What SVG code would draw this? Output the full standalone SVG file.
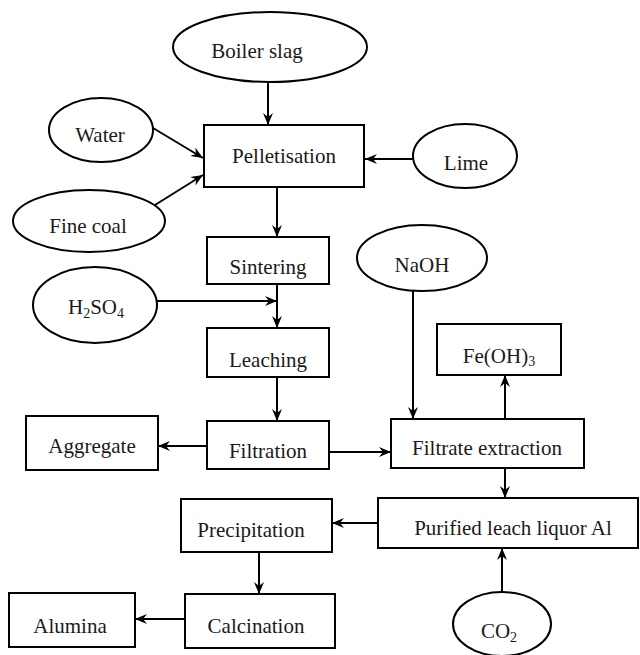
<svg xmlns="http://www.w3.org/2000/svg" width="640" height="655" viewBox="0 0 640 655">
<defs>
<marker id="ah" viewBox="0 0 12 10" markerWidth="12" markerHeight="10" refX="12" refY="5" orient="auto" markerUnits="userSpaceOnUse">
<path d="M0,0 L12,5 L0,10 L4,5 z" fill="#000"/>
</marker>
<style>
.n{fill:#fff;stroke:#000;stroke-width:2}
.t{font-family:"Liberation Serif","Times New Roman",serif;font-size:21px;fill:#1a1a1a;text-anchor:middle}
.s{font-size:14px}
.c{stroke:#000;stroke-width:2;fill:none;marker-end:url(#ah)}
</style>
</defs>
<rect width="640" height="655" fill="#fff"/>
<g id="connectors">
<line class="c" x1="268" y1="82" x2="268" y2="125"/>
<line class="c" x1="153" y1="128" x2="203" y2="158"/>
<line class="c" x1="155" y1="205" x2="203" y2="175"/>
<line class="c" x1="414" y1="159" x2="365" y2="159"/>
<line class="c" x1="277" y1="187" x2="277" y2="237"/>
<line class="c" x1="157" y1="301" x2="277" y2="301"/>
<line class="c" x1="277" y1="284" x2="277" y2="328"/>
<line class="c" x1="277" y1="377" x2="277" y2="421"/>
<line class="c" x1="207" y1="446" x2="158" y2="446"/>
<line class="c" x1="329" y1="452" x2="391" y2="452"/>
<line class="c" x1="413" y1="291" x2="413" y2="419"/>
<line class="c" x1="505" y1="419" x2="505" y2="375"/>
<line class="c" x1="505" y1="468" x2="505" y2="498"/>
<line class="c" x1="378" y1="523" x2="332" y2="523"/>
<line class="c" x1="259" y1="552" x2="259" y2="594"/>
<line class="c" x1="185" y1="619" x2="135" y2="619"/>
<line class="c" x1="502" y1="592" x2="502" y2="548"/>
</g>
<g id="boiler-slag"><ellipse class="n" cx="270" cy="47" rx="97" ry="35"/><text class="t" x="257" y="58">Boiler slag</text></g>
<g id="water"><ellipse class="n" cx="101" cy="130" rx="52" ry="32"/><text class="t" x="100" y="142">Water</text></g>
<g id="fine-coal"><ellipse class="n" cx="89" cy="221" rx="76" ry="31"/><text class="t" x="88" y="233">Fine coal</text></g>
<g id="lime"><ellipse class="n" cx="465" cy="156" rx="52" ry="32"/><text class="t" x="466" y="170">Lime</text></g>
<g id="pelletisation"><rect class="n" x="204" y="125" width="160" height="62"/><text class="t" x="284" y="163">Pelletisation</text></g>
<g id="sintering"><rect class="n" x="207" y="237" width="122" height="47"/><text class="t" x="268" y="274">Sintering</text></g>
<g id="h2so4"><ellipse class="n" cx="95" cy="305" rx="62" ry="38"/><text class="t" x="96" y="314">H<tspan class="s" dy="4">2</tspan><tspan dy="-4">SO</tspan><tspan class="s" dy="4">4</tspan></text></g>
<g id="leaching"><rect class="n" x="207" y="328" width="122" height="49"/><text class="t" x="268" y="367">Leaching</text></g>
<g id="filtration"><rect class="n" x="207" y="421" width="122" height="48"/><text class="t" x="268" y="458">Filtration</text></g>
<g id="aggregate"><rect class="n" x="26" y="416" width="132" height="54"/><text class="t" x="92" y="453">Aggregate</text></g>
<g id="naoh"><ellipse class="n" cx="422" cy="258" rx="65" ry="33"/><text class="t" x="422" y="272">NaOH</text></g>
<g id="feoh3"><rect class="n" x="437" y="324" width="124" height="51"/><text class="t" x="499" y="363">Fe(OH)<tspan class="s" dy="3">3</tspan></text></g>
<g id="filtrate-extraction"><rect class="n" x="391" y="419" width="193" height="49"/><text class="t" x="487" y="455">Filtrate extraction</text></g>
<g id="purified"><rect class="n" x="378" y="498" width="260" height="50"/><text class="t" x="513" y="535">Purified leach liquor Al</text></g>
<g id="precipitation"><rect class="n" x="181" y="499" width="151" height="53"/><text class="t" x="251" y="537">Precipitation</text></g>
<g id="calcination"><rect class="n" x="185" y="594" width="150" height="54"/><text class="t" x="256" y="633">Calcination</text></g>
<g id="alumina"><rect class="n" x="9" y="593" width="126" height="54"/><text class="t" x="70" y="633">Alumina</text></g>
<g id="co2"><ellipse class="n" cx="502" cy="624" rx="49" ry="32"/><text class="t" x="499" y="638">CO<tspan class="s" dy="4">2</tspan></text></g>
</svg>
